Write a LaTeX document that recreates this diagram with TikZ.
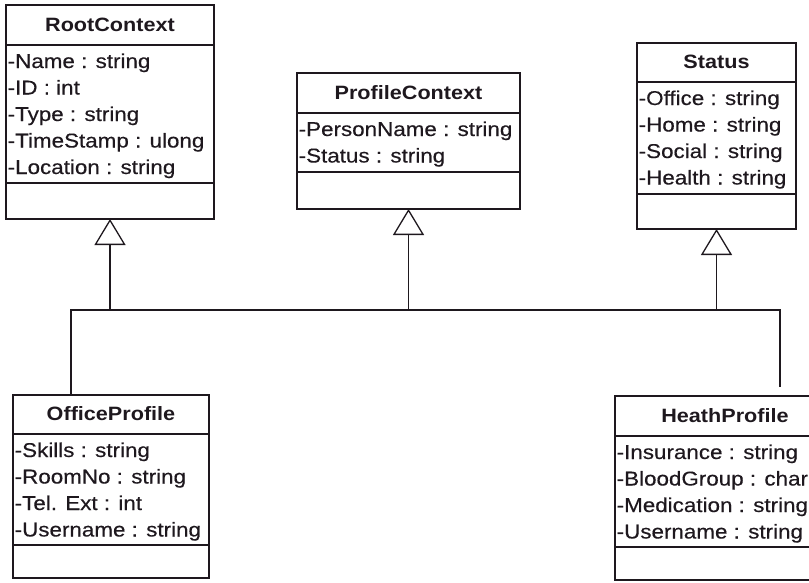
\documentclass[tikz,border=0pt]{standalone}
\usepackage{fontspec}
\setmainfont{Liberation Sans}
\usetikzlibrary{arrows.meta}
\definecolor{ink}{RGB}{30,24,30}
% slightly widened Arial-like lettering
\newcommand{\wide}[1]{\scalebox{1.12}[1]{#1}}
\newcommand{\attrfont}{\fontsize{20}{24}\selectfont\addfontfeature{FakeBold=0.35}}
\newcommand{\titlefont}{\fontsize{19.3}{23}\selectfont\bfseries}

% UML class box: name, x, y, width, height, first rule, second rule, title, attributes
\newcommand{\umlbox}[9]{%
  \node[frame, minimum width=#4pt, minimum height=#5pt] (#1) at (#2,#3) {};
  \draw[rule] (#1.west |- 0,#6) -- (#1.east |- 0,#6);
  \draw[rule] (#1.west |- 0,#7) -- (#1.east |- 0,#7);
  \node[ttl] (#1-title) at ({#2+#4/2},{#6-13.5}) {\wide{#8}};
  \foreach \a [count=\i] in {#9}
    \node[attr] (#1-a\i) at ({#2+1.5},{#6+23+(\i-1)*26.5}) {\wide{\a}};
}

\begin{document}
\begin{tikzpicture}[x=1pt, y=-1pt,
  frame/.style={draw=ink, line width=1.6pt, inner sep=0pt, outer sep=0pt, anchor=north west},
  rule/.style={draw=ink, line width=1.4pt},
  attr/.style={anchor=base west, inner sep=0pt, text=ink, font=\attrfont},
  ttl/.style={anchor=base, inner sep=0pt, text=ink, font=\titlefont},
  wire/.style={draw=ink, line width=1.3pt},
  gen/.style={wire, -{Triangle[open, length=26pt, width=31pt, line width=1.3pt]}}]
\useasboundingbox (0,0) rectangle (809,582);
\clip (0,0) rectangle (809,582);

\umlbox{rc}{6}{5}{208}{214}{45}{183}{RootContext}
  {-Name : string, -ID : int, -Type : string, -TimeStamp : ulong, -Location : string}
\umlbox{pc}{297}{73}{223}{136}{113}{172}{ProfileContext}
  {-PersonName : string, -Status : string}
\umlbox{st}{637}{43}{159}{186}{82}{194}{Status}
  {-Office : string, -Home : string, -Social : string, -Health : string}
\umlbox{op}{13}{395}{196}{183}{434}{545}{OfficeProfile}
  {-Skills : string, -RoomNo : string, -Tel. Ext : int, -Username : string}
\umlbox{hp}{615}{396}{220}{184}{436}{547}{HeathProfile}
  {-Insurance : string, -BloodGroup : char, -Medication : string, -Username : string}

% shared generalization bus
\coordinate (busL) at (71,310);
\coordinate (busR) at (780,310);
\coordinate (hpEnd) at (780,387);
\draw[wire] (op.north -| busL) -- (busL) -- (busR) -- (hpEnd);

\draw[gen] (rc.south |- busL) -- (rc.south);
\draw[gen] (pc.south |- busL) -- (pc.south);
\draw[gen] (st.south |- busL) -- (st.south);
\end{tikzpicture}
\end{document}
